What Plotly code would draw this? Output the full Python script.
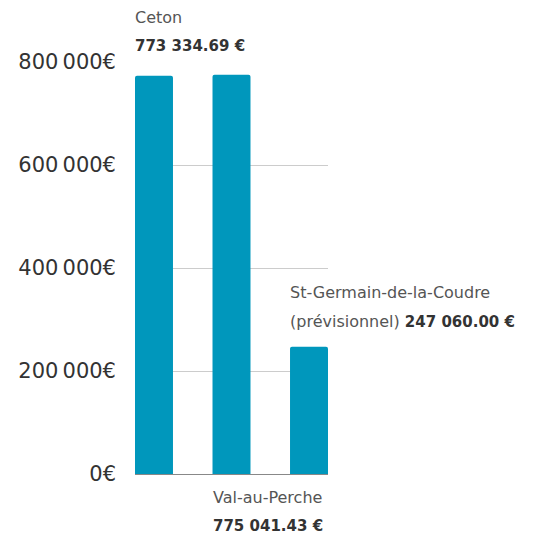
import plotly.graph_objects as go

communes = ["Ceton", "Val-au-Perche", "St-Germain-de-la-Coudre"]
montants = [773334.69, 775041.43, 247060.00]
montants_txt = ["773 334.69 €", "775 041.43 €", "247 060.00 €"]
tick_vals = [0, 200000, 400000, 600000, 800000]
tick_txt = ["0€", "200\u2009000€", "400\u2009000€", "600\u2009000€", "800\u2009000€"]

FONT = "DejaVu Sans"
BAR = "#0097BC"
W = 0.49  # bar width in category units

fig = go.Figure(go.Bar(
    x=[0, 1, 2], y=montants, width=W,
    marker=dict(color=BAR, cornerradius=2, line=dict(width=0)),
    hoverinfo="skip",
))

# Labels left-aligned on each bar's left edge
left = [i - W / 2 for i in range(3)]
name_font = dict(family=FONT, size=16, color="#555")
val_font = dict(family=FONT, size=15, color="#333")
common = dict(xref="x", yref="y", xanchor="left", yanchor="middle", showarrow=False, xshift=-2)
ann = []
# Ceton: above the bar
ann.append(dict(x=left[0], y=montants[0], yshift=58, text=communes[0], font=name_font, **common))
ann.append(dict(x=left[0], y=montants[0], yshift=30, text="<b>%s</b>" % montants_txt[0],
                font=val_font, **common))
# Val-au-Perche: below the axis
ann.append(dict(x=left[1], y=0, yshift=-23, text=communes[1], font=name_font, **common))
ann.append(dict(x=left[1], y=0, yshift=-52, text="<b>%s</b>" % montants_txt[1],
                font=val_font, **common))
# St-Germain: above the bar
ann.append(dict(x=left[2], y=montants[2], yshift=54, text=communes[2], font=name_font, **common))
ann.append(dict(x=left[2], y=montants[2], yshift=25,
                text="(prévisionnel) <b><span style='color:#333;font-size:15px'>%s</span></b>" % montants_txt[2],
                font=name_font, **common))

fig.update_layout(
    width=544, height=538,
    margin=dict(l=135, r=216, t=62, b=64),
    paper_bgcolor="white", plot_bgcolor="white",
    showlegend=False,
    annotations=ann,
    xaxis=dict(showticklabels=False, showgrid=False, zeroline=False,
               showline=False, range=[-W / 2, 2 + W / 2], fixedrange=True),
    yaxis=dict(range=[0, 800000], tickvals=tick_vals, ticktext=tick_txt,
               showgrid=True, gridcolor="#cccccc", gridwidth=1,
               zeroline=True, zerolinecolor="#888888", zerolinewidth=1,
               showline=False, ticks="", ticklabelstandoff=18,
               tickfont=dict(family=FONT, size=21, color="#333"), fixedrange=True),
)

fig.write_html("out.html")
